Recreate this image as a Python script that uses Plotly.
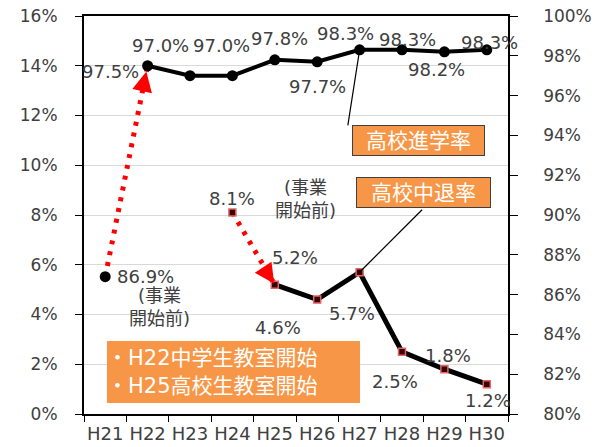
import plotly.graph_objects as go

# ---- data ----
years = ["H21", "H22", "H23", "H24", "H25", "H26", "H27", "H28", "H29", "H30"]
adv_rate = [86.9, 97.5, 97.0, 97.0, 97.8, 97.7, 98.3, 98.3, 98.2, 98.3]   # 高校進学率 (right axis)
drop_rate = [None, None, None, 8.1, 5.2, 4.6, 5.7, 2.5, 1.8, 1.2]        # 高校中退率 (left axis)
left_ticks = [0, 2, 4, 6, 8, 10, 12, 14, 16]
right_ticks = [80, 82, 84, 86, 88, 90, 92, 94, 96, 98, 100]

# label offsets (pixels) for the data labels
adv_shift = [(10, 0, "left"), (-37, -6, "center"), (-30, 30, "center"), (-11, 30, "center"),
             (5, 21, "center"), (0, -25, "center"), (-14, 16, "center"), (5, 10, "center"),
             (-8, -18, "center"), (3, 7, "center")]
drop_shift = [None, None, None, (0, 14), (20, 27), (-39, -28), (-8, -41), (-7, -30), (4, 14), (1, -16)]

FONT = "DejaVu Sans, Noto Sans CJK JP, sans-serif"
TXT = "#404040"
ORANGE = "#F79646"
RED = "#FF0000"

fig = go.Figure()

# dotted red arrow shafts: H21 -> H22 (advancement, right axis), H24 -> H25 (dropout, left axis)
fig.add_trace(go.Scatter(
    x=years[0:2], y=adv_rate[0:2], yaxis="y2", mode="lines",
    line=dict(color=RED, width=5, dash="4px,7px"),
    hoverinfo="skip", showlegend=False))
fig.add_trace(go.Scatter(
    x=years[3:5], y=drop_rate[3:5], mode="lines",
    line=dict(color=RED, width=5, dash="4px,7px"),
    hoverinfo="skip", showlegend=False))

# dropout line H25-H30
fig.add_trace(go.Scatter(
    x=years[4:], y=drop_rate[4:], mode="lines+markers",
    line=dict(color="black", width=5),
    marker=dict(symbol="square", size=7, color="#3a0000",
                line=dict(color="#e06666", width=1.5)),
    showlegend=False))
# dropout point H24 (before program)
fig.add_trace(go.Scatter(
    x=[years[3]], y=[drop_rate[3]], mode="markers",
    marker=dict(symbol="square", size=7, color="#3a0000",
                line=dict(color="#e06666", width=1.5)),
    showlegend=False))

# advancement line H22-H30
fig.add_trace(go.Scatter(
    x=years[1:], y=adv_rate[1:], yaxis="y2", mode="lines+markers",
    line=dict(color="black", width=4),
    marker=dict(symbol="circle", size=11, color="black"),
    showlegend=False))
# advancement point H21
fig.add_trace(go.Scatter(
    x=[years[0]], y=[adv_rate[0]], yaxis="y2", mode="markers",
    marker=dict(symbol="circle", size=11, color="black"),
    showlegend=False))

annotations = []
for i, (yr, v) in enumerate(zip(years, adv_rate)):
    dx, dy, anc = adv_shift[i]
    annotations.append(dict(x=yr, y=v, xref="x", yref="y2", text=f"{v:.1f}%",
                            showarrow=False, xshift=dx, yshift=dy, xanchor=anc,
                            yanchor="middle",
                            font=dict(size=18, color=TXT, family=FONT)))
for i, (yr, v) in enumerate(zip(years, drop_rate)):
    if v is None:
        continue
    dx, dy = drop_shift[i]
    annotations.append(dict(x=yr, y=v, xref="x", yref="y", text=f"{v:.1f}%",
                            showarrow=False, xshift=dx, yshift=dy,
                            xanchor="center", yanchor="middle",
                            font=dict(size=18, color=TXT, family=FONT)))

# red arrowheads at the end of the dotted arrows
annotations.append(dict(x=years[1], y=adv_rate[1], xref="x", yref="y2", text="",
                        showarrow=True, arrowhead=2, arrowsize=1.6, arrowwidth=2.5,
                        arrowcolor=RED, ax=-3, ay=14, standoff=6))
annotations.append(dict(x=years[4], y=drop_rate[4], xref="x", yref="y", text="",
                        showarrow=True, arrowhead=2, arrowsize=1.6, arrowwidth=2.5,
                        arrowcolor=RED, ax=-8, ay=-12, standoff=1))

# (事業開始前) notes
annotations.append(dict(x=years[0], y=adv_rate[0], xref="x", yref="y2",
                        text="(事業<br>開始前)", showarrow=False, xshift=54, yshift=-30,
                        xanchor="center", yanchor="middle",
                        align="center", font=dict(size=18, color=TXT, family=FONT)))
annotations.append(dict(x=years[3], y=drop_rate[3], xref="x", yref="y",
                        text="(事業<br>開始前)", showarrow=False, xshift=73, yshift=14,
                        xanchor="center", yanchor="middle",
                        align="center", font=dict(size=18, color=TXT, family=FONT)))

# leader lines
annotations.append(dict(x=years[6], y=adv_rate[6], xref="x", yref="y2", text="",
                        showarrow=True, arrowhead=0, arrowwidth=1.2, arrowcolor="black",
                        ax=-12, ay=77, standoff=0))
annotations.append(dict(x=years[6], y=drop_rate[6], xref="x", yref="y", text="",
                        showarrow=True, arrowhead=0, arrowwidth=1.2, arrowcolor="black",
                        ax=64, ay=-64, standoff=0))

# boxes
annotations.append(dict(x=0.788, y=0.688, xref="paper", yref="paper", text="高校進学率",
                        xanchor="center", yanchor="middle",
                        showarrow=False, bgcolor=ORANGE, bordercolor="#404040", borderwidth=1,
                        borderpad=0, width=131, height=29,
                        font=dict(size=21, color="white", family=FONT)))
annotations.append(dict(x=0.801, y=0.5565, xref="paper", yref="paper", text="高校中退率",
                        xanchor="center", yanchor="middle",
                        showarrow=False, bgcolor=ORANGE, bordercolor="#404040", borderwidth=1,
                        borderpad=0, width=133, height=29,
                        font=dict(size=21, color="white", family=FONT)))
annotations.append(dict(x=0.3526, y=0.1055, xref="paper", yref="paper",
                        text="・H22中学生教室開始<br>・H25高校生教室開始",
                        xanchor="center", yanchor="middle",
                        showarrow=False, bgcolor=ORANGE, borderwidth=0,
                        borderpad=0, width=253, height=62, align="left",
                        font=dict(size=21, color="white", family=FONT)))

fig.update_layout(
    width=600, height=447,
    margin=dict(l=84, r=92, t=16, b=33),
    paper_bgcolor="white", plot_bgcolor="white",
    font=dict(family=FONT, color=TXT, size=17),
    showlegend=False,
    xaxis=dict(type="category", categoryorder="array", categoryarray=years,
               range=[-0.5, 9.5], tickson="boundaries", ticks="outside", ticklen=6,
               tickcolor="black", showline=True, linecolor="black", linewidth=1.5,
               mirror=True, showgrid=False, tickfont=dict(size=18, color=TXT),
               tickangle=0, ticklabelstandoff=3, automargin=False),
    yaxis=dict(range=[0, 16], tickvals=left_ticks,
               ticktext=[f"{t}%" for t in left_ticks], ticks="outside", ticklen=7,
               tickcolor="black", showline=True, linecolor="black", linewidth=2,
               showgrid=True, gridcolor="#d9d9d9", gridwidth=1, zeroline=False,
               tickfont=dict(size=17, color=TXT), ticklabelstandoff=14, automargin=False),
    yaxis2=dict(range=[80, 100], tickvals=right_ticks,
                ticktext=[f"{t}%" for t in right_ticks], overlaying="y", side="right",
                ticks="outside", ticklen=8, tickcolor="black", showline=True,
                linecolor="black", linewidth=1.5, showgrid=False, zeroline=False,
                tickfont=dict(size=17, color=TXT), ticklabelstandoff=22, automargin=False),
    annotations=annotations,
)

# remove the browser's default body margin so the figure sits at the window origin
fig.write_html("out.html", config={"displayModeBar": False},
               post_script="document.body.style.margin='0px';")
